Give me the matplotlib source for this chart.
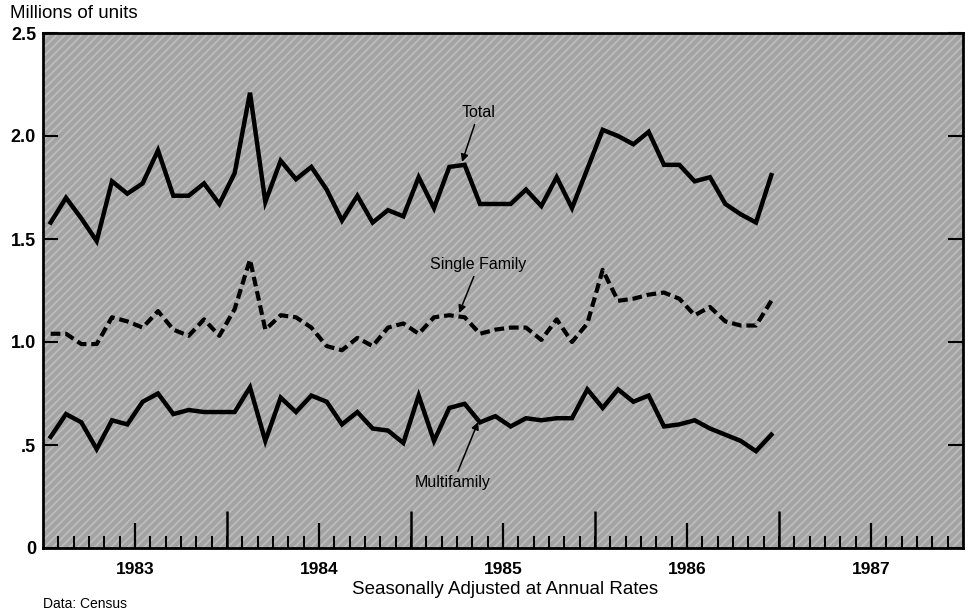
import numpy as np
import matplotlib
matplotlib.use("Agg")
import matplotlib.pyplot as plt
from matplotlib.patches import Rectangle

# ---- data (millions of units, SAAR), monthly Jan 1983 .. Dec 1986 ----
total = [1.58, 1.70, 1.60, 1.49, 1.78, 1.72, 1.77, 1.93, 1.71, 1.71, 1.77, 1.67,
         1.82, 2.21, 1.68, 1.88, 1.79, 1.85, 1.74, 1.59, 1.71, 1.58, 1.64, 1.61,
         1.80, 1.65, 1.85, 1.86, 1.67, 1.67, 1.67, 1.74, 1.66, 1.80, 1.65, 1.84,
         2.03, 2.00, 1.96, 2.02, 1.86, 1.86, 1.78, 1.80, 1.67, 1.62, 1.58, 1.81]
single = [1.04, 1.04, 0.99, 0.99, 1.12, 1.10, 1.07, 1.15, 1.06, 1.03, 1.11, 1.03,
          1.16, 1.40, 1.06, 1.13, 1.12, 1.07, 0.98, 0.96, 1.02, 0.98, 1.07, 1.09,
          1.04, 1.12, 1.13, 1.12, 1.04, 1.06, 1.07, 1.07, 1.01, 1.11, 1.00, 1.09,
          1.35, 1.20, 1.21, 1.23, 1.24, 1.21, 1.13, 1.17, 1.10, 1.08, 1.08, 1.20]
multi = [0.54, 0.65, 0.61, 0.48, 0.62, 0.60, 0.71, 0.75, 0.65, 0.67, 0.66, 0.66,
         0.66, 0.78, 0.52, 0.73, 0.66, 0.74, 0.71, 0.60, 0.66, 0.58, 0.57, 0.51,
         0.74, 0.52, 0.68, 0.70, 0.61, 0.64, 0.59, 0.63, 0.62, 0.63, 0.63, 0.77,
         0.68, 0.77, 0.71, 0.74, 0.59, 0.60, 0.62, 0.58, 0.55, 0.52, 0.47, 0.55]
years = ["1983", "1984", "1985", "1986", "1987"]
ytick_vals = [0, 0.5, 1.0, 1.5, 2.0, 2.5]
ytick_labels = ["0", ".5", "1.0", "1.5", "2.0", "2.5"]

plt.rcParams["lines.scale_dashes"] = False
plt.rcParams["hatch.linewidth"] = 1.3
plt.rcParams["font.family"] = ["Liberation Sans", "DejaVu Sans"]

fig = plt.figure(figsize=(9.68, 6.12), dpi=100)
ax = fig.add_axes([43/968, 1 - 548/612, 920/968, 515/612])

# textured gray background
ax.set_facecolor("#a3a3a3")
ax.add_patch(Rectangle((0, 0), 1, 1, transform=ax.transAxes, facecolor="none",
                       edgecolor="#bcbcbc", hatch="////", lw=0, zorder=0.5))

x = np.arange(len(total))
ax.plot(x, total, color="black", lw=3.2, solid_joinstyle="miter", zorder=3)
ax.plot(x, single, color="black", lw=3.0, linestyle=(0, (7, 3.5)), zorder=3)
ax.plot(x, multi, color="black", lw=3.2, solid_joinstyle="miter", zorder=3)

ax.set_xlim(-0.5, 59.5)
ax.set_ylim(0, 2.5)

# y axis
ax.set_yticks(ytick_vals)
ax.set_yticklabels(ytick_labels, fontsize=13, fontweight="bold")
ax.tick_params(axis="y", direction="in", length=11, width=1.5, right=True,
               labelright=False, pad=5)

# x axis: labels at mid-year, monthly minor ticks, tall year-boundary ticks
mid = [5.5 + 12 * i for i in range(len(years))]
ax.set_xticks(mid)
ax.set_xticklabels(years, fontsize=12.5, fontweight="bold")
ax.set_xticks([k + 0.5 for k in range(59)], minor=True)
ax.tick_params(axis="x", which="major", direction="in", length=18, width=1.6, pad=10)
ax.tick_params(axis="x", which="minor", direction="in", length=9, width=1.4)
sec = ax.secondary_xaxis("bottom")
sec.set_zorder(4)
sec.set_xticks([11.5 + 12 * i for i in range(4)])
sec.tick_params(direction="in", length=27, width=1.8, labelbottom=False)
sec.spines["bottom"].set_visible(False)

for s in ax.spines.values():
    s.set_linewidth(2.0)
    s.set_color("black")
    s.set_zorder(5)

# annotations
arrow = dict(arrowstyle="-|>", color="black", lw=1.1, mutation_scale=11,
             shrinkA=1, shrinkB=0)
ax.annotate("Total", xy=(26.83, 1.874), xytext=(27.9, 2.112), ha="center",
            va="center", fontsize=11.5, arrowprops=arrow)
ax.annotate("Single Family", xy=(26.64, 1.141), xytext=(27.9, 1.374),
            ha="center", va="center", fontsize=11.5, arrowprops=arrow)
ax.annotate("Multifamily", xy=(27.88, 0.612), xytext=(26.25, 0.316),
            ha="center", va="center", fontsize=11.5, arrowprops=arrow)

fig.text(10/968, 1 - 14/612, "Millions of units", fontsize=13.5, va="center",
         ha="left")
fig.text(505/968, 1 - 590/612, "Seasonally Adjusted at Annual Rates",
         fontsize=13.5, va="center", ha="center")
fig.text(43/968, 1 - 604/612, "Data: Census", fontsize=10, va="center",
         ha="left")

fig.savefig("out.png", dpi=100)
